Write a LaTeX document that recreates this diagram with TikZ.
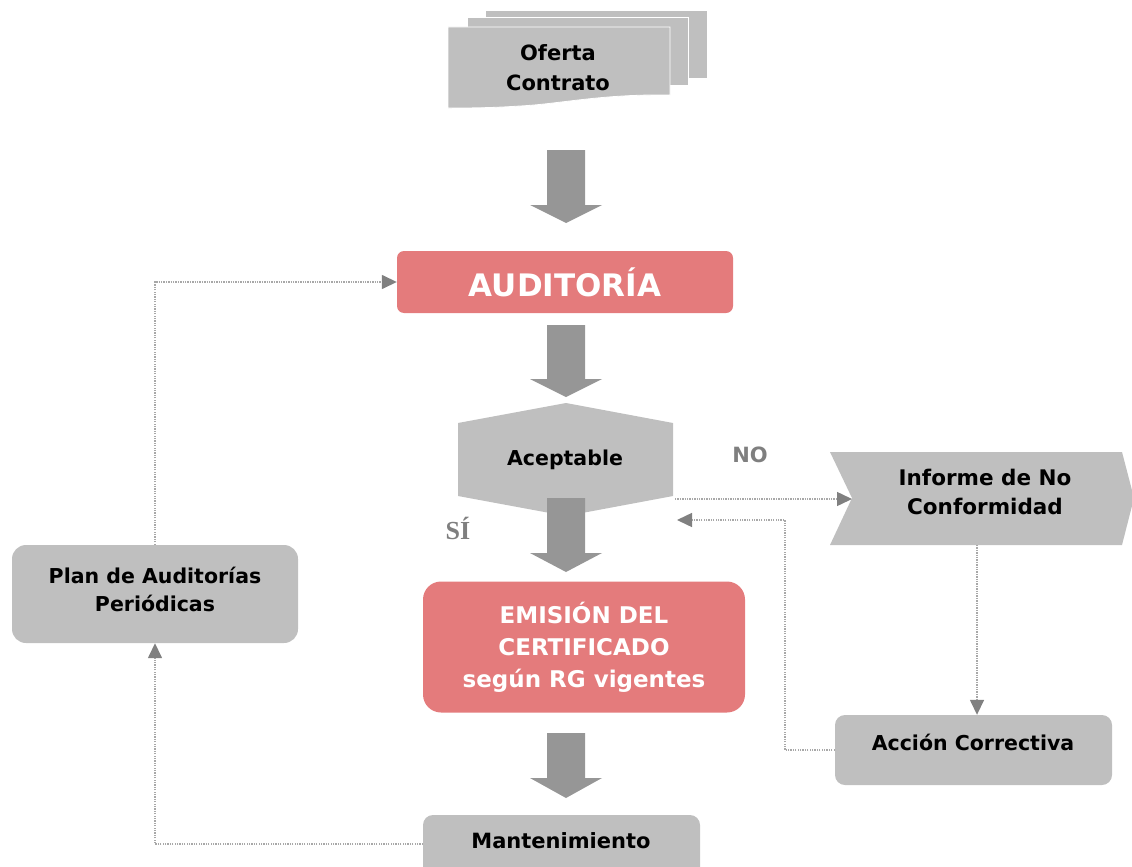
\documentclass[tikz,border=0pt]{standalone}
\usepackage{fontspec}
\setmainfont{DejaVu Sans}
\newfontfamily\sifont{Liberation Serif}
\usetikzlibrary{arrows.meta}
\definecolor{boxred}{HTML}{E47B7C}
\definecolor{boxgray}{HTML}{BFBFBF}
\definecolor{fatgray}{HTML}{969696}
\definecolor{dotgray}{HTML}{A8A8A8}
\definecolor{tipgray}{HTML}{808080}
\definecolor{lblgray}{HTML}{7F7F7F}
\newcommand\fatarr[3]{\fill[fatgray] (547,#1) -- (585,#1) -- (585,#2) -- (602,#2) -- (566,#3) -- (530,#2) -- (547,#2) -- cycle;}
\begin{document}
\begin{tikzpicture}[x=1pt,y=-1pt,
  redbox/.style={fill=boxred, rounded corners=#1, text=white, font=\bfseries, align=center, inner sep=0pt},
  graybox/.style={fill=boxgray, rounded corners=#1, inner sep=0pt},
  txt/.style={font=\bfseries, inner sep=0pt, align=center},
  dotline/.style={draw=dotgray, line width=1.5pt, dash pattern=on 1.3pt off 1.1pt,
    -{Triangle[length=15pt,width=14pt,color=tipgray,fill=tipgray]}}
]
\useasboundingbox (0,0) rectangle (1132,867);

% --- Oferta / Contrato (multi-document)
\filldraw[fill=boxgray, draw=white, line width=0.8pt] (485,10) rectangle (707,78);
\filldraw[fill=boxgray, draw=white, line width=0.8pt] (467,17) rectangle (688,85);
\filldraw[fill=boxgray, draw=white, line width=0.8pt] (448,27) -- (670,27) -- (670,95)
  .. controls (600,94) and (560,104) .. (520,106)
  .. controls (490,108) and (470,108) .. (448,108) -- cycle;
\node[txt, font=\fontsize{21}{30}\selectfont\bfseries] (oferta) at (558,68) {Oferta\\Contrato};

\fatarr{150}{205}{223}

% --- AUDITORIA
\node[redbox=7pt, minimum width=336pt, minimum height=62pt,
  font=\fontsize{31}{36}\selectfont\bfseries] (aud) at (565,282) {AUDITORÍA};

\fatarr{325}{379}{397}

% --- Aceptable (hexagon)
\fill[boxgray] (566,403) -- (673,423) -- (673,496) -- (566,516) -- (458,496) -- (458,423) -- cycle;
\node[txt, font=\fontsize{20.5}{24}\selectfont\bfseries] (acept) at (565,460) {Aceptable};
\coordinate (acR) at (675,499);
\coordinate (acIn) at (677,520);

\fatarr{498}{553}{572}

% --- labels
\node[txt, text=lblgray, font=\fontsize{21}{24}\selectfont\bfseries] (no) at (750,455) {NO};
\node[txt, text=lblgray, font=\fontsize{26}{28}\selectfont\sifont\bfseries] (si) at (458,528) {SÍ};

% --- Emision
\node[redbox=18pt, minimum width=322pt, minimum height=131pt,
  font=\fontsize{23}{32}\selectfont\bfseries] (emis) at (584,647) {EMISIÓN DEL\\CERTIFICADO\\según RG vigentes};

\fatarr{733}{778}{798}

% --- Mantenimiento
\node[graybox=10pt, minimum width=277pt, minimum height=64pt] (mantbox) at (561.5,847) {};
\node[txt, font=\fontsize{21}{24}\selectfont\bfseries] (mant) at (561,841) {Mantenimiento};
\coordinate (manL) at (423,844);

% --- Plan
\node[graybox=14pt, minimum width=286pt, minimum height=98pt] (planbox) at (155,594) {};
\node[txt, font=\fontsize{20.5}{28}\selectfont\bfseries] (plan) at (155,589) {Plan de Auditorías\\Periódicas};

% --- Informe de No Conformidad (chevron)
\fill[boxgray] (830,452) -- (1122,452) -- (1134,498) -- (1122,545) -- (830,545) -- (852,498) -- cycle;
\node[txt, font=\fontsize{21.5}{29}\selectfont\bfseries] (inf) at (985,492) {Informe de No\\Conformidad};
\coordinate (infL) at (852,499);
\coordinate (infB) at (977,545);

% --- Accion Correctiva
\node[graybox=10pt, minimum width=277pt, minimum height=70pt] (accbox) at (973.5,750) {};
\node[txt, font=\fontsize{20.5}{24}\selectfont\bfseries] (acc) at (973,742) {Acción Correctiva};

% --- dotted connectors
\draw[dotline] (acR) -- (infL);
\draw[dotline] (infB) -- (infB |- accbox.north);
\draw[dotline] (accbox.west) -- ++(-50,0) |- (acIn);
\draw[dotline] (manL) -| (planbox.south);
\draw[dotline] (planbox.north) |- (aud.west);
\end{tikzpicture}
\end{document}
